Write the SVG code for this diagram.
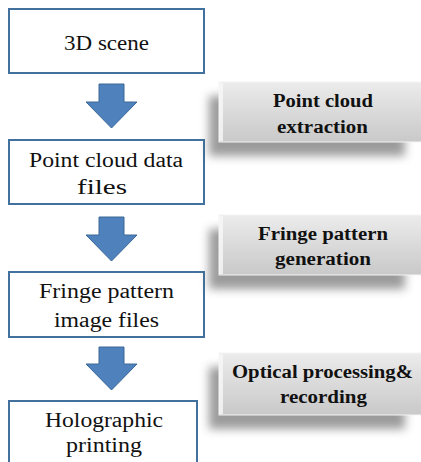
<svg xmlns="http://www.w3.org/2000/svg" width="421" height="462" viewBox="0 0 421 462">
  <defs>
    <linearGradient id="pg" x1="0" y1="0" x2="0" y2="1">
      <stop offset="0" stop-color="#ececec"/>
      <stop offset="0.5" stop-color="#dadada"/>
      <stop offset="1" stop-color="#c9c9c9"/>
    </linearGradient>
    <filter id="blur" x="-20%" y="-50%" width="140%" height="200%">
      <feGaussianBlur stdDeviation="5"/>
    </filter>
  </defs>
  <style>
    .box { fill: #ffffff; stroke: #41719c; stroke-width: 2; }
    .arrow { fill: #4f81bd; stroke: #3a6897; stroke-width: 1; }
    .t { font-family: "Liberation Serif", "DejaVu Serif", serif; font-size: 20px; font-weight: normal; fill: #111; text-anchor: middle; }
    .b { font-family: "Liberation Serif", "DejaVu Serif", serif; font-size: 18px; font-weight: bold; fill: #111; text-anchor: middle; }
    .panel { fill: url(#pg); stroke: #f4f4f4; stroke-width: 1; }
    .shadow { fill: #5a5a5a; opacity: 0.6; filter: url(#blur); }
    .bevel { fill: #f8f8f8; opacity: 0.8; }
  </style>

  <g id="connectors">
    <polygon class="arrow" points="99,84 124,84 124,102 137,102 111.5,128 86,102 99,102"/>
    <polygon class="arrow" points="99,217 124,217 124,235 137,235 111.5,261 86,235 99,235"/>
    <polygon class="arrow" points="99,347 124,347 124,364 137,364 111.5,390 86,364 99,364"/>
  </g>

  <g id="node-3d-scene">
    <rect class="box" x="9" y="9" width="195" height="64"/>
    <text class="t" x="106.5" y="50" transform="translate(106.5 0) scale(1.15 1) translate(-106.5 0)">3D scene</text>
  </g>

  <g id="node-point-cloud-files">
    <rect class="box" x="9" y="140" width="195" height="64"/>
    <text class="t" x="106" y="167" textLength="154" lengthAdjust="spacingAndGlyphs">Point cloud data</text>
    <text class="t" x="102" y="194" textLength="50" lengthAdjust="spacingAndGlyphs">files</text>
  </g>

  <g id="node-fringe-files">
    <rect class="box" x="9" y="272" width="195" height="65"/>
    <text class="t" x="106.5" y="298" textLength="135" lengthAdjust="spacingAndGlyphs">Fringe pattern</text>
    <text class="t" x="106.5" y="327" textLength="105" lengthAdjust="spacingAndGlyphs">image files</text>
  </g>

  <g id="node-holographic">
    <rect class="box" x="9" y="401" width="188" height="70"/>
    <text class="t" x="104" y="427" textLength="118" lengthAdjust="spacingAndGlyphs">Holographic</text>
    <text class="t" x="104" y="452" textLength="76" lengthAdjust="spacingAndGlyphs">printing</text>
  </g>

  <g id="label-point-cloud-extraction">
    <rect class="shadow" x="209" y="96" width="196" height="60"/>
    <rect class="panel" x="219" y="82" width="210" height="60"/>
    <rect class="bevel" x="219" y="83" width="4" height="58"/>
    <text class="b" x="323" y="107" textLength="100" lengthAdjust="spacingAndGlyphs">Point cloud</text>
    <text class="b" x="322.5" y="133" textLength="91" lengthAdjust="spacingAndGlyphs">extraction</text>
  </g>

  <g id="label-fringe-generation">
    <rect class="shadow" x="209" y="229" width="196" height="60"/>
    <rect class="panel" x="219" y="215" width="210" height="60"/>
    <rect class="bevel" x="219" y="216" width="4" height="58"/>
    <text class="b" x="323" y="240" textLength="130" lengthAdjust="spacingAndGlyphs">Fringe pattern</text>
    <text class="b" x="323" y="265" textLength="96" lengthAdjust="spacingAndGlyphs">generation</text>
  </g>

  <g id="label-optical-processing">
    <rect class="shadow" x="209" y="367" width="196" height="62"/>
    <rect class="panel" x="219" y="353" width="210" height="62"/>
    <rect class="bevel" x="219" y="354" width="4" height="60"/>
    <text class="b" x="322.5" y="378" textLength="181" lengthAdjust="spacingAndGlyphs">Optical processing&amp;</text>
    <text class="b" x="323.5" y="403" textLength="87" lengthAdjust="spacingAndGlyphs">recording</text>
  </g>
</svg>
